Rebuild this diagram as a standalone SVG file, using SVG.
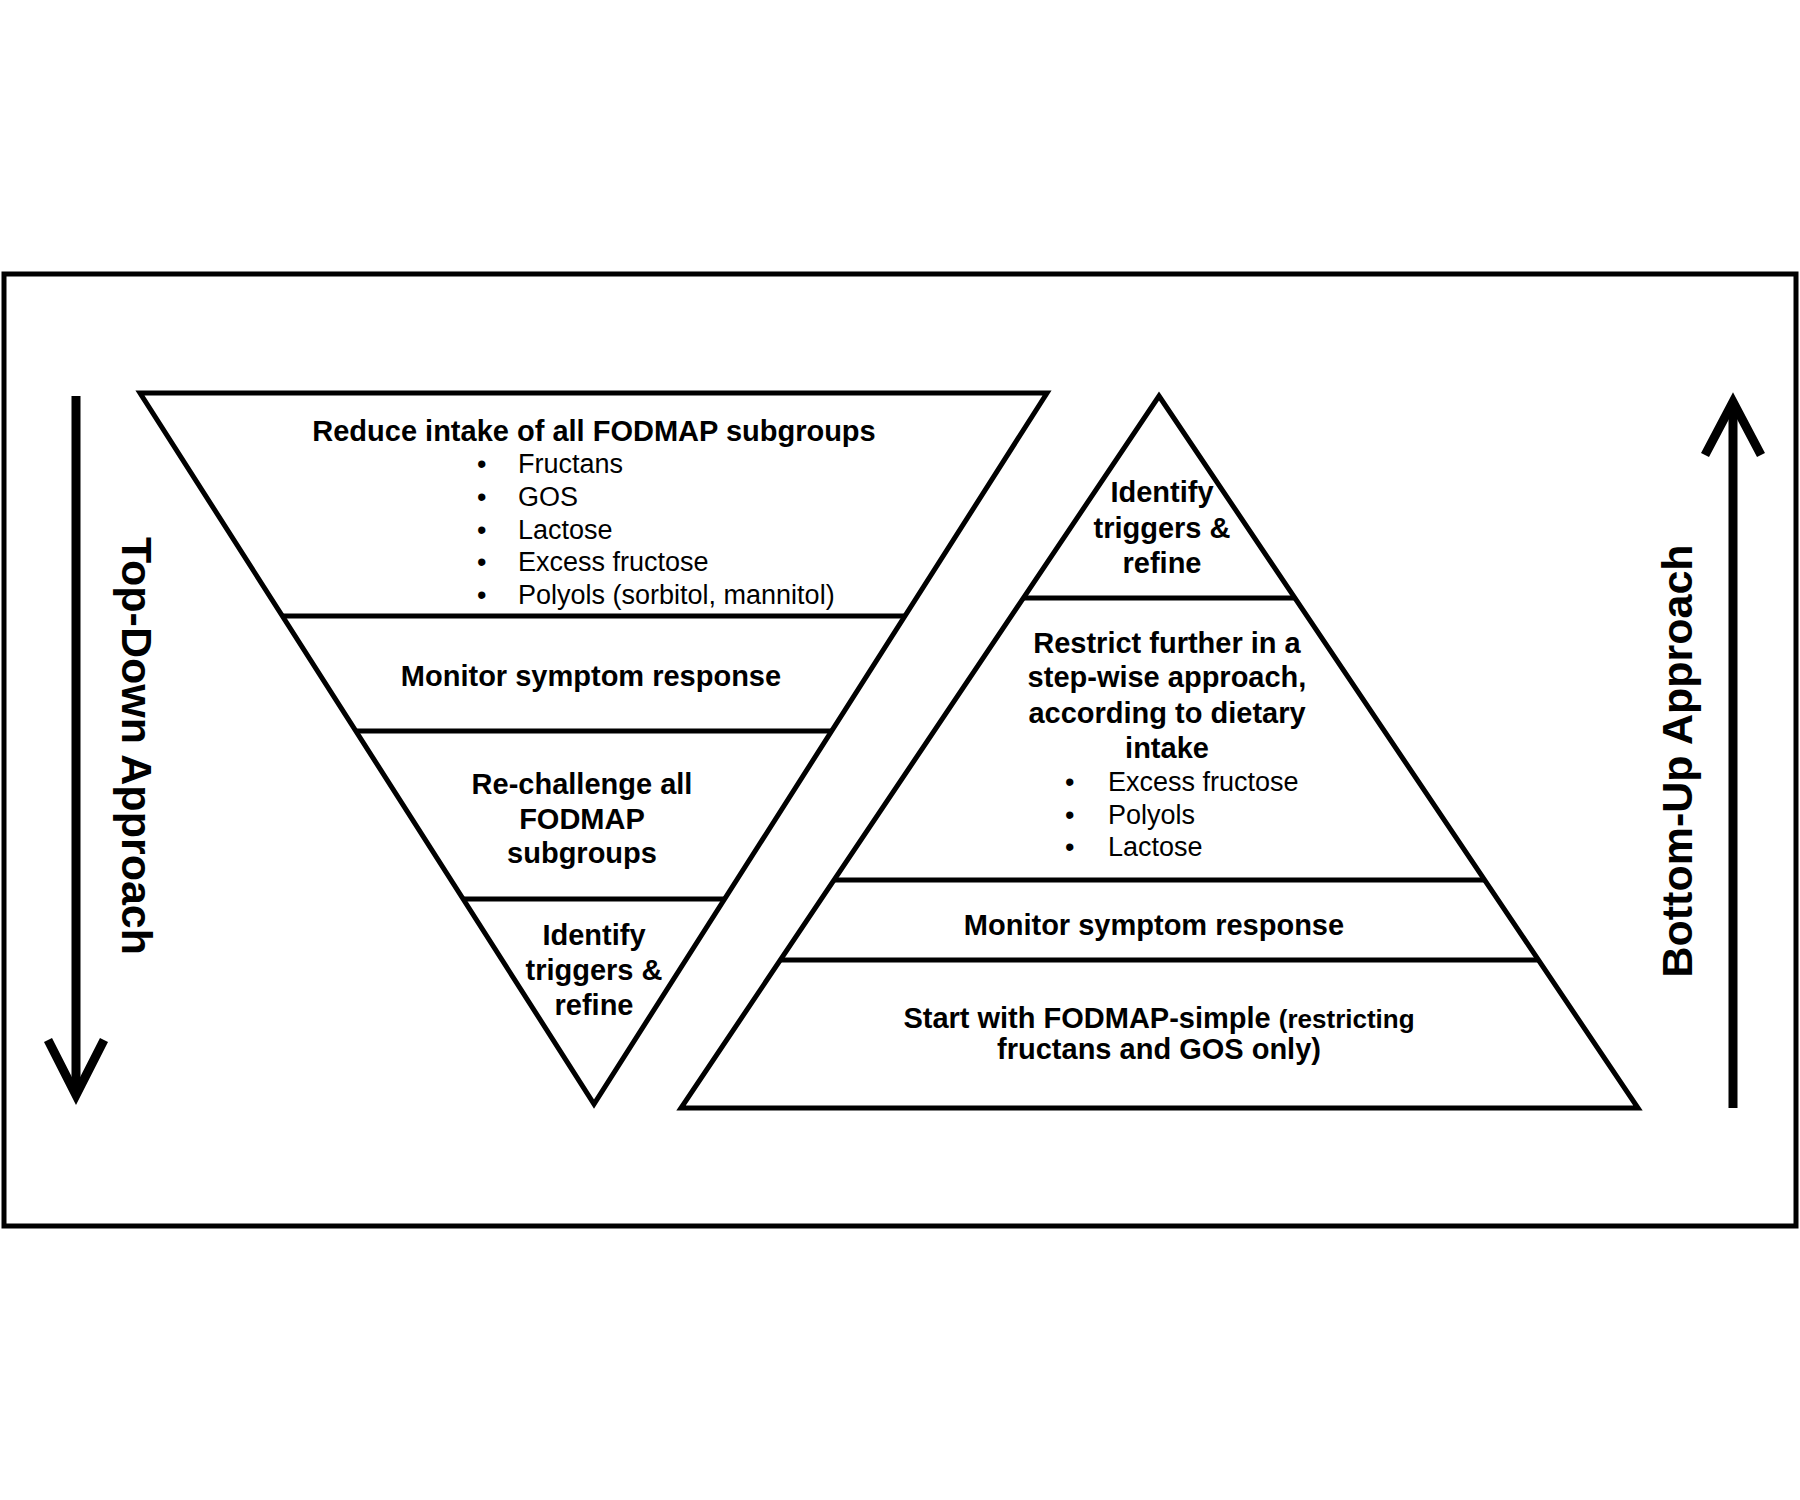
<svg xmlns="http://www.w3.org/2000/svg" width="1800" height="1500" viewBox="0 0 1800 1500">
<style>
.s{fill:none;stroke:#000;stroke-width:5;stroke-linejoin:miter}
.b{font-family:"Liberation Sans",Arial,sans-serif;font-weight:bold;font-size:29px;text-anchor:middle}
.n{font-family:"Liberation Sans",Arial,sans-serif;font-size:27px}
.r{font-family:"Liberation Sans",Arial,sans-serif;font-weight:bold;font-size:43px;text-anchor:middle}
</style>
<rect width="1800" height="1500" fill="#fff"/>
<rect x="4" y="274" width="1792" height="952" class="s"/>
<g id="topdown">
<polygon points="140,393 1047,393 594,1104" class="s"/>
<line x1="282" y1="616" x2="905" y2="616" class="s"/>
<line x1="356" y1="731" x2="832" y2="731" class="s"/>
<line x1="463" y1="899" x2="725" y2="899" class="s"/>
<text class="b" x="594" y="441">Reduce intake of all FODMAP subgroups</text>
<g class="n">
<text x="477" y="473">•</text><text x="518" y="473">Fructans</text>
<text x="477" y="506">•</text><text x="518" y="506">GOS</text>
<text x="477" y="539">•</text><text x="518" y="539">Lactose</text>
<text x="477" y="571">•</text><text x="518" y="571">Excess fructose</text>
<text x="477" y="604">•</text><text x="518" y="604">Polyols (sorbitol, mannitol)</text>
</g>
<text class="b" x="591" y="686">Monitor symptom response</text>
<text class="b" x="582" y="794">Re-challenge all</text>
<text class="b" x="582" y="829">FODMAP</text>
<text class="b" x="582" y="863">subgroups</text>
<text class="b" x="594" y="945">Identify</text>
<text class="b" x="594" y="980">triggers &amp;</text>
<text class="b" x="594" y="1015">refine</text>
</g>
<g id="bottomup">
<polygon points="1159,396 1638,1108 681,1108" class="s"/>
<line x1="1023" y1="598" x2="1295" y2="598" class="s"/>
<line x1="834" y1="880" x2="1485" y2="880" class="s"/>
<line x1="780" y1="960" x2="1538" y2="960" class="s"/>
<text class="b" x="1162" y="502">Identify</text>
<text class="b" x="1162" y="538">triggers &amp;</text>
<text class="b" x="1162" y="573">refine</text>
<text class="b" x="1167" y="653">Restrict further in a</text>
<text class="b" x="1167" y="687">step-wise approach,</text>
<text class="b" x="1167" y="723">according to dietary</text>
<text class="b" x="1167" y="758">intake</text>
<g class="n">
<text x="1065" y="791">•</text><text x="1108" y="791">Excess fructose</text>
<text x="1065" y="824">•</text><text x="1108" y="824">Polyols</text>
<text x="1065" y="856">•</text><text x="1108" y="856">Lactose</text>
</g>
<text class="b" x="1159" y="1028">Start with FODMAP-simple <tspan font-size="26">(restricting</tspan></text>
<text class="b" x="1159" y="1059" font-size="26">fructans and GOS only)</text>
<text class="b" x="1154" y="935">Monitor symptom response</text>
</g>
<g id="arrows">
<line x1="76" y1="396" x2="76" y2="1095" stroke="#000" stroke-width="9"/>
<polyline points="48,1040 76,1095 104,1040" fill="none" stroke="#000" stroke-width="9"/>
<line x1="1733" y1="1108" x2="1733" y2="402" stroke="#000" stroke-width="9"/>
<polyline points="1705,455 1733,402 1761,455" fill="none" stroke="#000" stroke-width="9"/>
<text class="r" transform="translate(122,746) rotate(90)">Top-Down Approach</text>
<text class="r" transform="translate(1692,761) rotate(-90)">Bottom-Up Approach</text>
</g>
</svg>
